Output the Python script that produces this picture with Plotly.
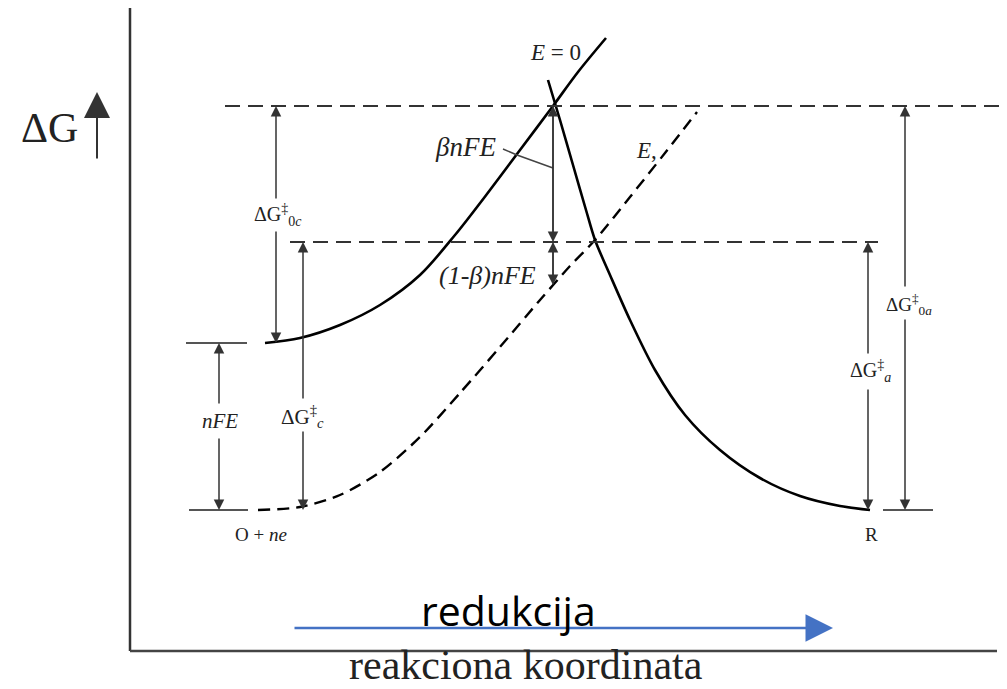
import plotly.graph_objects as go

# ---- data (x = reaction coordinate, G = free energy, arbitrary units) ----
# energy levels
G_bottom = 140   # O + ne (at E) and R
G_O0 = 307       # O + ne at E = 0
G_mid = 408      # transition state at E
G_top = 544      # transition state at E = 0

# solid O curve at E = 0
o0_x = [265, 300, 340, 380, 420, 455, 490, 520, 553, 578, 606]
o0_g = [307, 312, 325, 345, 375, 415, 460, 500, 544, 578, 612]

# dashed O curve at potential E
oe_x = [258, 300, 340, 380, 420, 460, 500, 540, 570, 595, 630, 665, 697]
oe_g = [140, 143, 155, 178, 213, 257, 303, 350, 384, 410, 453, 497, 538]

# solid R curve
r_x = [548, 560, 573, 586, 595, 610, 630, 655, 685, 720, 760, 800, 840, 870]
r_g = [570, 530, 485, 440, 410, 375, 330, 280, 235, 200, 172, 154, 144, 140]

# level segments: (x0, x1, G, dashed)
levels = [
    (225, 1007, G_top, True),
    (290, 878, G_mid, True),
    (186, 247, G_O0, False),
    (189, 248, G_bottom, False),
    (883, 933, G_bottom, False),
]

# split vertical arrows: (x, G_from_end, G_to_end, gap_hi, gap_lo, label, label_x, label_g, size)
split_arrows = [
    (219, G_O0, G_bottom, 245, 213, "<i>nFE</i>", 220, 229, 21),
    (303, G_mid, G_bottom, 250, 220, "ΔG<sup>‡</sup><sub><i>c</i></sub>", 302, 234, 21),
    (276, G_top, G_O0, 450, 420, "ΔG<sup>‡</sup><sub>0<i>c</i></sub>", 278, 435, 20),
    (905, G_top, G_bottom, 362, 332, "ΔG<sup>‡</sup><sub>0<i>a</i></sub>", 909, 346, 19),
    (868, G_mid, G_bottom, 295, 262, "ΔG<sup>‡</sup><sub><i>a</i></sub>", 870, 279, 20),
]

beta_x = 553
beta_low = 365

labels = [
    ("<i>E</i> = 0", 555, 598, 23),
    ("<i>βnFE</i>", 465, 503, 27),
    ("<i>(1-β)nFE</i>", 487, 375, 26),
    ("<i>E</i>,", 646, 500, 23),
    ("O + <i>ne</i>", 261, 116, 19),
    ("R", 871, 116, 19),
]

leader_x = [503, 517, 553]
leader_g = [501, 495, 482]

x_title = "reakciona koordinata"
y_title = "ΔG"
arrow_label = "redukcija"

SERIF = "Liberation Serif, Times New Roman, serif"

fig = go.Figure()

fig.add_trace(go.Scatter(x=o0_x, y=o0_g, mode="lines",
                         line=dict(color="black", width=2.6, shape="spline", smoothing=0.9),
                         hoverinfo="skip", showlegend=False))
fig.add_trace(go.Scatter(x=oe_x, y=oe_g, mode="lines",
                         line=dict(color="black", width=2.4, dash="12px,7px", shape="spline", smoothing=0.8),
                         hoverinfo="skip", showlegend=False))
fig.add_trace(go.Scatter(x=r_x, y=r_g, mode="lines",
                         line=dict(color="black", width=2.6, shape="spline", smoothing=0.8),
                         hoverinfo="skip", showlegend=False))
fig.add_trace(go.Scatter(x=leader_x, y=leader_g, mode="lines",
                         line=dict(color="#444", width=1.5),
                         hoverinfo="skip", showlegend=False))

for x0, x1, g, dashed in levels:
    fig.add_trace(go.Scatter(x=[x0, x1], y=[g, g], mode="lines",
                             line=dict(color="#333" if dashed else "#555", width=2.2,
                                       dash="15px,8px" if dashed else "solid"),
                             hoverinfo="skip", showlegend=False))

# axes frame lines
fig.add_shape(type="line", x0=130, x1=130, y0=-1, y1=642, xref="x", yref="y",
              line=dict(color="#333", width=2.5))
fig.add_shape(type="line", x0=130, x1=997, y0=-1, y1=-1, xref="x", yref="y",
              line=dict(color="#444", width=2.5))

ann = []


def arrow(x, y, ax, ay, color="#333", width=1.5, size=1.4, head=2):
    ann.append(dict(x=x, y=y, ax=ax, ay=ay, xref="x", yref="y", axref="x", ayref="y",
                    text="", showarrow=True, arrowhead=head, arrowsize=size,
                    arrowwidth=width, arrowcolor=color, standoff=0, startstandoff=0))


for x, g_hi, g_lo, gap_hi, gap_lo, txt, lx, lg, fs in split_arrows:
    arrow(x, g_hi, x, gap_hi)
    arrow(x, g_lo, x, gap_lo)
    ann.append(dict(x=lx, y=lg, xref="x", yref="y", text=txt, showarrow=False,
                    font=dict(family=SERIF, size=fs, color="#222")))

# beta arrows
arrow(beta_x, G_mid, beta_x, G_top)
arrow(beta_x, G_top, beta_x, G_mid)
arrow(beta_x, beta_low, beta_x, G_mid)
arrow(beta_x, G_mid, beta_x, beta_low)

for txt, lx, lg, fs in labels:
    ann.append(dict(x=lx, y=lg, xref="x", yref="y", text=txt, showarrow=False,
                    font=dict(family=SERIF, size=fs, color="#222")))

# ΔG axis label with arrow
ann.append(dict(x=49, y=522, xref="x", yref="y", text=y_title, showarrow=False,
                font=dict(family=SERIF, size=42, color="#222")))
arrow(97, 558, 97, 490, color="#333", width=2, size=2.6)

# reduction arrow
arrow(833, 22, 293, 22, color="#4472C4", width=2.5, size=2.2)
ann.append(dict(x=508, y=40, xref="x", yref="y", text=arrow_label, showarrow=False,
                font=dict(family="Open Sans, Noto Sans, sans-serif", size=41, color="black")))

# x title
ann.append(dict(x=526, y=0, xref="paper", yref="paper", xanchor="center", yanchor="bottom",
                borderpad=0, text=x_title, showarrow=False,
                font=dict(family=SERIF, size=42, color="#222")))
ann[-1]["xref"] = "x"

fig.update_layout(
    width=1007, height=689,
    margin=dict(l=0, r=0, t=0, b=0),
    paper_bgcolor="white", plot_bgcolor="white",
    xaxis=dict(range=[0, 1007], visible=False, fixedrange=True),
    yaxis=dict(range=[-39, 650], visible=False, fixedrange=True),
    annotations=ann,
    showlegend=False,
)

fig.write_html("out.html", config={"displayModeBar": False},
               post_script="document.body.style.margin='0px';")
